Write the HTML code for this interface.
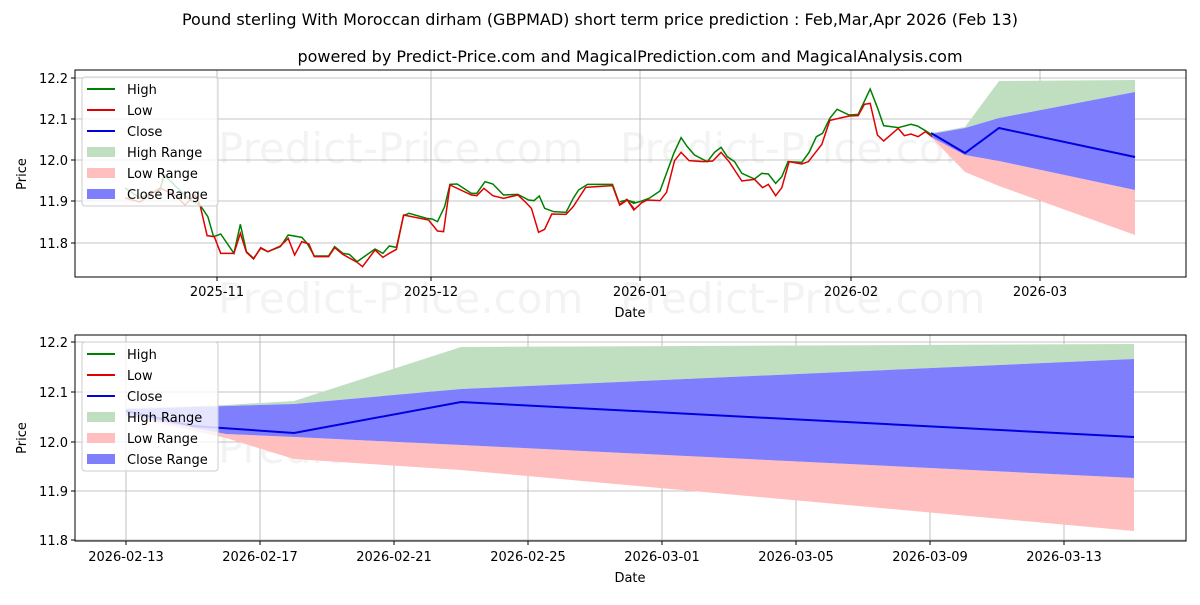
<!DOCTYPE html>
<html><head><meta charset="utf-8"><style>
body{margin:0;background:#fff}
svg{font-family:"DejaVu Sans","Liberation Sans",sans-serif}
</style></head><body>
<svg width="1200" height="600" viewBox="0 0 1200 600" xmlns="http://www.w3.org/2000/svg">
<rect width="1200" height="600" fill="#fff"/>
<text x="600" y="25" font-size="16" text-anchor="middle">Pound sterling With Moroccan dirham (GBPMAD) short term price prediction : Feb,Mar,Apr 2026 (Feb 13)</text>
<text x="630" y="62" font-size="16" text-anchor="middle">powered by Predict-Price.com and MagicalPrediction.com and MagicalAnalysis.com</text>

<!-- watermarks -->
<g fill="#000" opacity="0.045" font-size="42">
<text x="218" y="163">Predict-Price.com</text><text x="620" y="163">Predict-Price.com</text>
<text x="218" y="313">Predict-Price.com</text><text x="620" y="313">Predict-Price.com</text>
<text x="218" y="463">Predict-Price.com</text><text x="620" y="463">Predict-Price.com</text>
</g>

<!-- TOP CHART -->
<g stroke="#b0b0b0" stroke-width="0.8">
<line x1="217" y1="70" x2="217" y2="277"/><line x1="431" y1="70" x2="431" y2="277"/>
<line x1="640" y1="70" x2="640" y2="277"/><line x1="851" y1="70" x2="851" y2="277"/>
<line x1="1040" y1="70" x2="1040" y2="277"/>
<line x1="75" y1="78" x2="1186" y2="78"/><line x1="75" y1="119" x2="1186" y2="119"/>
<line x1="75" y1="160" x2="1186" y2="160"/><line x1="75" y1="201" x2="1186" y2="201"/>
<line x1="75" y1="243" x2="1186" y2="243"/>
</g>
<polygon fill="#c0dfc0" points="931,133 965,127 999,81 1135,80 1135,92 999,118 965,128 931,134"/>
<polygon fill="#ffbfbf" points="931,137 965,155 999,161 1135,190 1135,235 999,186 965,172 931,137"/>
<polygon fill="#7f7ffe" points="931,134 965,128 999,118 1135,92 1135,190 999,161 965,155 931,137"/>
<polyline fill="none" stroke="#0000e0" stroke-width="2" points="931,133 965,153 999,128 1135,157"/>
<polyline fill="none" stroke="#008000" stroke-width="1.5" points="125,188 140,198 160,190 164,175 190,200 200,205"/>
<polyline fill="none" stroke="#e00000" stroke-width="1.5" points="125,198 140,202 160,188 175,195 185,205 195,195 200,205"/>
<g transform="translate(75,65) scale(0.35714,0.33333)">
<polyline fill="none" stroke="#008000" stroke-width="1.5" vector-effect="non-scaling-stroke" points="350,420 372,455 388,515 408,507 445,565 463,478 480,560 500,580 520,550 540,560 575,545 597,510 635,517 650,535 670,573 710,573 727,545 750,565 768,568 790,590 840,552 862,565 880,543 900,547 920,452 935,445 985,460 1000,462 1015,470 1035,425 1050,358 1070,357 1110,385 1125,385 1148,350 1170,357 1200,390 1240,388 1270,405 1285,407 1300,393 1315,430 1340,440 1375,442 1395,400 1410,375 1435,358 1505,358 1525,418 1545,405 1568,412"/>
<polyline fill="none" stroke="#e00000" stroke-width="1.5" vector-effect="non-scaling-stroke" points="350,420 370,512 390,515 408,565 445,565 463,505 480,562 500,582 520,548 540,560 575,543 597,520 615,570 635,530 655,537 670,575 710,575 727,548 750,568 790,592 805,605 840,555 862,577 880,565 900,553 920,450 990,465 1015,498 1032,500 1050,360 1110,390 1125,392 1145,370 1170,392 1200,400 1240,390 1260,410 1278,430 1298,502 1315,493 1335,447 1375,448 1395,425 1430,367 1505,362 1525,420 1545,403 1568,435"/>
</g>
<g transform="translate(620,65) scale(0.363636,0.33333)">
<polyline fill="none" stroke="#008000" stroke-width="1.5" vector-effect="non-scaling-stroke" points="0,410 20,405 38,415 60,408 80,400 110,378 148,265 168,218 185,245 205,270 240,290 260,262 278,247 295,275 315,290 335,325 370,342 390,325 408,327 428,355 445,335 462,290 500,292 520,262 540,215 557,205 577,160 597,133 630,150 655,148 688,72 708,128 725,182 765,188 800,178 818,183 840,197 858,210"/>
<polyline fill="none" stroke="#e00000" stroke-width="1.5" vector-effect="non-scaling-stroke" points="0,420 20,405 38,435 60,413 75,405 110,407 128,382 150,287 168,262 190,287 230,290 255,288 278,262 300,290 335,348 370,343 392,368 408,358 428,392 445,368 465,290 500,297 518,290 555,238 577,166 630,153 655,152 672,118 688,115 708,210 725,228 765,190 782,212 800,207 820,215 840,200 858,215"/>
</g>
<rect x="75" y="70" width="1111" height="207" fill="none" stroke="#000" stroke-width="1"/>
<g font-size="13" text-anchor="end">
<text x="68" y="83">12.2</text><text x="68" y="124">12.1</text><text x="68" y="165">12.0</text><text x="68" y="206">11.9</text><text x="68" y="248">11.8</text>
</g>
<g stroke="#000"><line x1="71" y1="78" x2="75" y2="78"/><line x1="71" y1="119" x2="75" y2="119"/><line x1="71" y1="160" x2="75" y2="160"/><line x1="71" y1="201" x2="75" y2="201"/><line x1="71" y1="243" x2="75" y2="243"/>
<line x1="217" y1="277" x2="217" y2="281"/><line x1="431" y1="277" x2="431" y2="281"/><line x1="640" y1="277" x2="640" y2="281"/><line x1="851" y1="277" x2="851" y2="281"/><line x1="1040" y1="277" x2="1040" y2="281"/></g>
<g font-size="13" text-anchor="middle">
<text x="217" y="296">2025-11</text><text x="431" y="296">2025-12</text><text x="640" y="296">2026-01</text><text x="851" y="296">2026-02</text><text x="1040" y="296">2026-03</text>
<text x="630" y="317">Date</text>
<text transform="translate(26,174) rotate(-90)">Price</text>
</g>
<g>
<rect x="82" y="77" width="136" height="129" rx="3" fill="#fff" fill-opacity="0.8" stroke="#ccc"/>
<line x1="87" y1="89" x2="115" y2="89" stroke="#008000" stroke-width="2"/>
<line x1="87" y1="110" x2="115" y2="110" stroke="#e00000" stroke-width="2"/>
<line x1="87" y1="131" x2="115" y2="131" stroke="#0000e0" stroke-width="2"/>
<rect x="87" y="147" width="28" height="10" fill="#c0dfc0"/>
<rect x="87" y="168" width="28" height="10" fill="#ffbfbf"/>
<rect x="87" y="189" width="28" height="10" fill="#7f7ffe"/>
<g font-size="13"><text x="127" y="94">High</text><text x="127" y="115">Low</text><text x="127" y="136">Close</text><text x="127" y="157">High Range</text><text x="127" y="178">Low Range</text><text x="127" y="199">Close Range</text></g>
</g>

<!-- BOTTOM CHART -->
<g stroke="#b0b0b0" stroke-width="0.8">
<line x1="126" y1="335" x2="126" y2="541"/><line x1="260" y1="335" x2="260" y2="541"/>
<line x1="394" y1="335" x2="394" y2="541"/><line x1="528" y1="335" x2="528" y2="541"/>
<line x1="662" y1="335" x2="662" y2="541"/><line x1="796" y1="335" x2="796" y2="541"/>
<line x1="930" y1="335" x2="930" y2="541"/><line x1="1064" y1="335" x2="1064" y2="541"/>
<line x1="75" y1="342" x2="1186" y2="342"/><line x1="75" y1="392" x2="1186" y2="392"/>
<line x1="75" y1="442" x2="1186" y2="442"/><line x1="75" y1="491" x2="1186" y2="491"/>
<line x1="75" y1="540" x2="1186" y2="540"/>
</g>
<polygon fill="#c0dfc0" points="126,408 226,405 294,401 461,347 1134,344 1134,359 461,389 294,404 226,406 126,409"/>
<polygon fill="#ffbfbf" points="126,415 226,434 294,437 461,445 1134,478 1134,531 461,470 294,459 226,438 126,416"/>
<polygon fill="#7f7ffe" points="126,409 226,406 294,404 461,389 1134,359 1134,478 461,445 294,437 226,434 126,415"/>
<polyline fill="none" stroke="#0000e0" stroke-width="2" points="126,411 193,426 294,433 461,402 1134,437"/>
<rect x="75" y="335" width="1111" height="206" fill="none" stroke="#000" stroke-width="1"/>
<g font-size="13" text-anchor="end">
<text x="68" y="347">12.2</text><text x="68" y="397">12.1</text><text x="68" y="447">12.0</text><text x="68" y="496">11.9</text><text x="68" y="545">11.8</text>
</g>
<g stroke="#000"><line x1="71" y1="342" x2="75" y2="342"/><line x1="71" y1="392" x2="75" y2="392"/><line x1="71" y1="442" x2="75" y2="442"/><line x1="71" y1="491" x2="75" y2="491"/><line x1="71" y1="540" x2="75" y2="540"/>
<line x1="126" y1="541" x2="126" y2="545"/><line x1="260" y1="541" x2="260" y2="545"/><line x1="394" y1="541" x2="394" y2="545"/><line x1="528" y1="541" x2="528" y2="545"/><line x1="662" y1="541" x2="662" y2="545"/><line x1="796" y1="541" x2="796" y2="545"/><line x1="930" y1="541" x2="930" y2="545"/><line x1="1064" y1="541" x2="1064" y2="545"/></g>
<g font-size="13" text-anchor="middle">
<text x="126" y="561">2026-02-13</text><text x="260" y="561">2026-02-17</text><text x="394" y="561">2026-02-21</text><text x="528" y="561">2026-02-25</text><text x="662" y="561">2026-03-01</text><text x="796" y="561">2026-03-05</text><text x="930" y="561">2026-03-09</text><text x="1064" y="561">2026-03-13</text>
<text x="630" y="582">Date</text>
<text transform="translate(26,438) rotate(-90)">Price</text>
</g>
<g>
<rect x="82" y="342" width="136" height="129" rx="3" fill="#fff" fill-opacity="0.8" stroke="#ccc"/>
<line x1="87" y1="354" x2="115" y2="354" stroke="#008000" stroke-width="2"/>
<line x1="87" y1="375" x2="115" y2="375" stroke="#e00000" stroke-width="2"/>
<line x1="87" y1="396" x2="115" y2="396" stroke="#0000e0" stroke-width="2"/>
<rect x="87" y="412" width="28" height="10" fill="#c0dfc0"/>
<rect x="87" y="433" width="28" height="10" fill="#ffbfbf"/>
<rect x="87" y="454" width="28" height="10" fill="#7f7ffe"/>
<g font-size="13"><text x="127" y="359">High</text><text x="127" y="380">Low</text><text x="127" y="401">Close</text><text x="127" y="422">High Range</text><text x="127" y="443">Low Range</text><text x="127" y="464">Close Range</text></g>
</g>
</svg>
</body></html>
